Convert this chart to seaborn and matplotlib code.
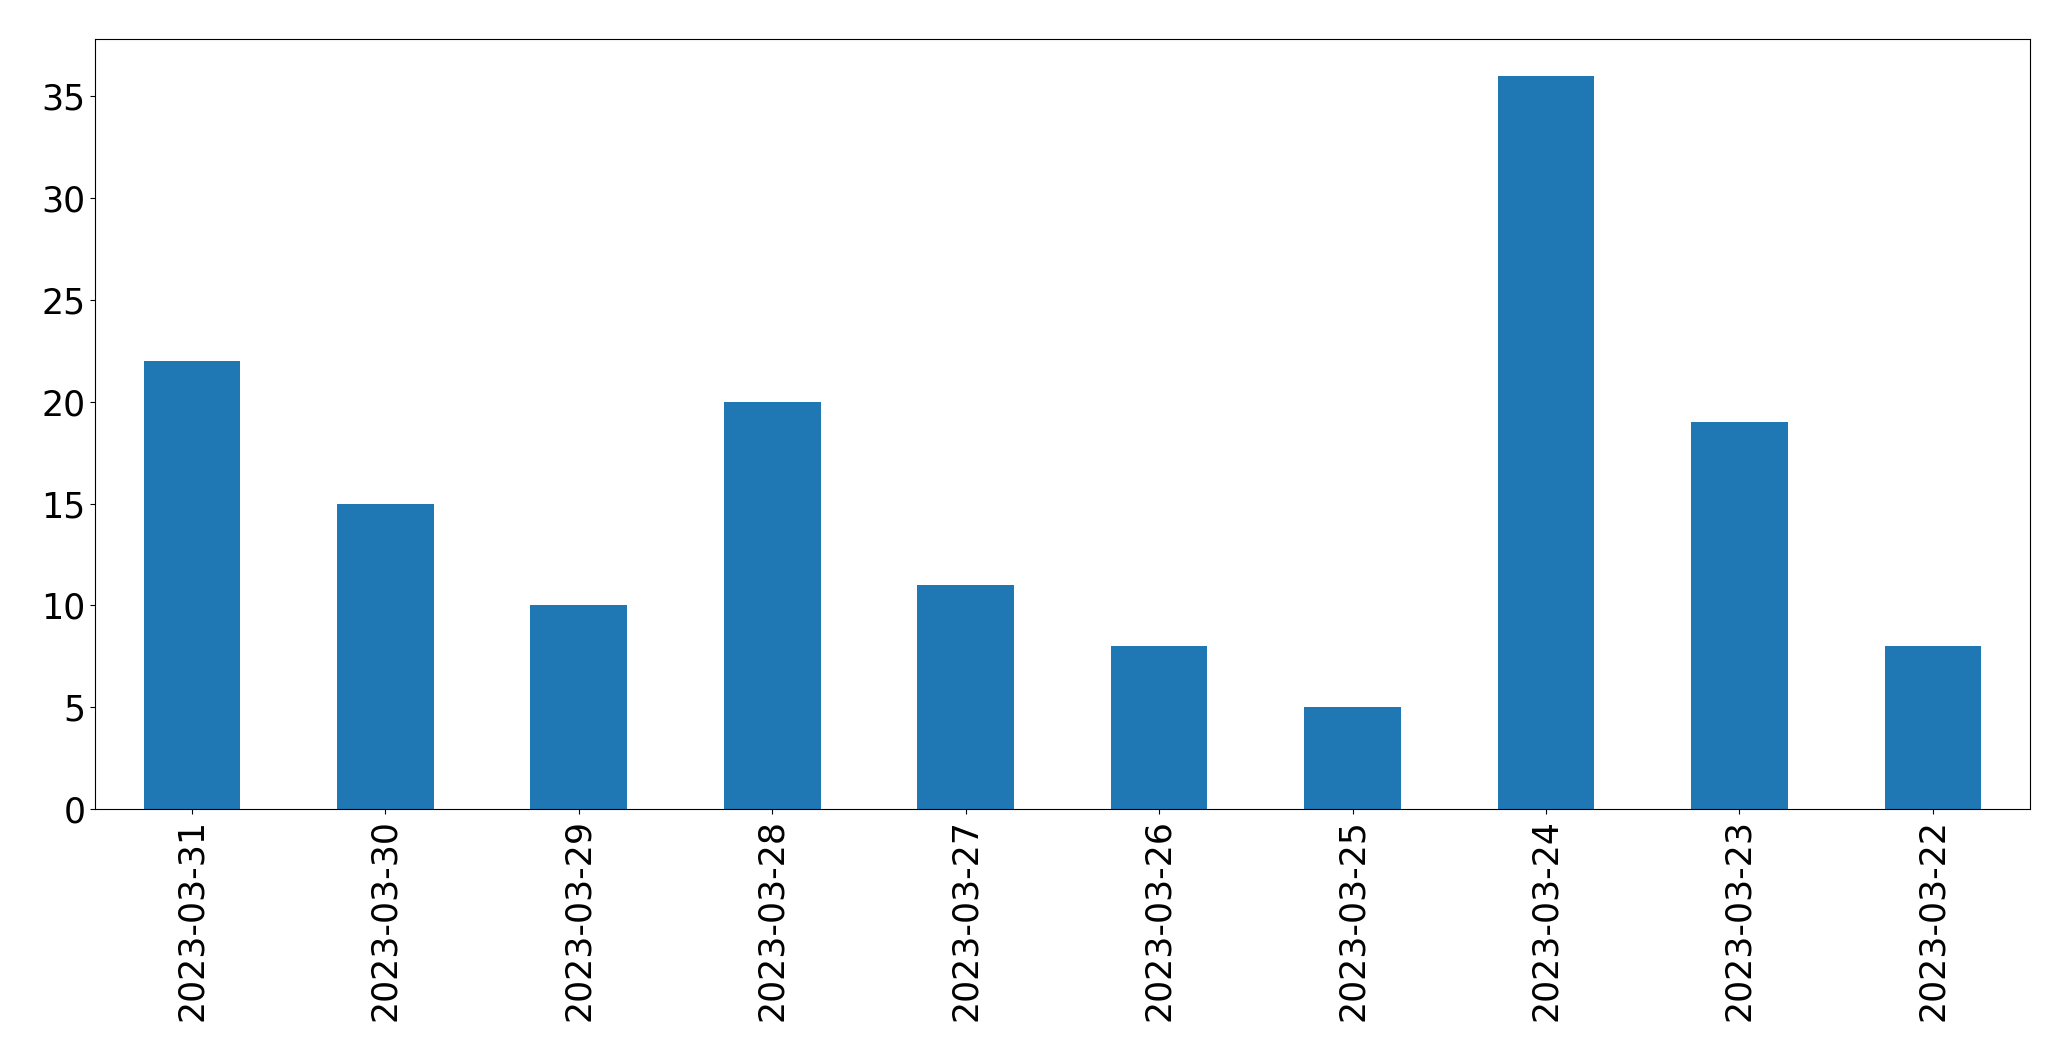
import pandas as pd
import matplotlib
matplotlib.use("Agg")
import matplotlib.pyplot as plt
import seaborn as sns

# Daily counts, in the order shown on the chart
dates = ["2023-03-31", "2023-03-30", "2023-03-29", "2023-03-28", "2023-03-27",
         "2023-03-26", "2023-03-25", "2023-03-24", "2023-03-23", "2023-03-22"]
counts = [22, 15, 10, 20, 11, 8, 5, 36, 19, 8]

df = pd.DataFrame({"date": dates, "count": counts})

fig, ax = plt.subplots(figsize=(20.71, 10.61), dpi=100)
sns.barplot(x="date", y="count", data=df, order=dates, color="#1f77b4",
            saturation=1, width=0.5, ax=ax)

ax.set_xlim(-0.5, len(dates) - 0.5)
ax.set_ylim(0, max(counts) * 1.05)
ax.set_xlabel("")
ax.set_ylabel("")
ax.tick_params(axis="x", labelrotation=90, labelsize=25)
ax.tick_params(axis="y", labelsize=25)

plt.subplots_adjust(left=0.046, right=0.980, top=0.963, bottom=0.2375)
plt.savefig("out.png", dpi=100)
